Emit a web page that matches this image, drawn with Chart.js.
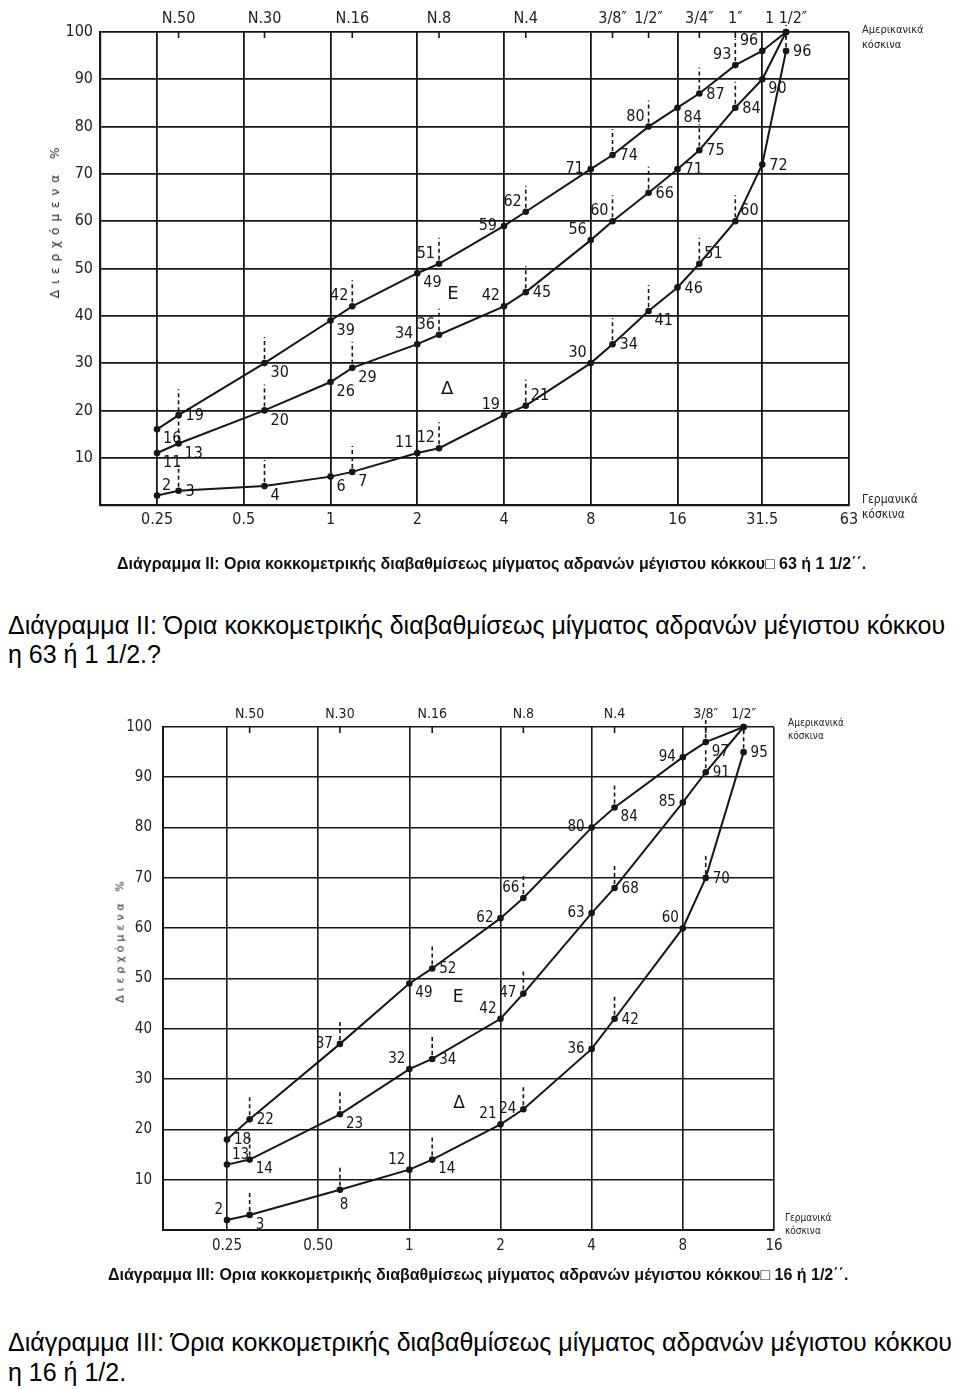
<!DOCTYPE html>
<html><head><meta charset="utf-8">
<script src="https://cdn.jsdelivr.net/npm/chart.js@4.4.0/dist/chart.umd.min.js"></script>
<style>
body{margin:0;background:#fff;width:960px;height:1389px;position:relative;overflow:hidden;font-family:"Liberation Sans",Arial,sans-serif;color:#000;}
.abs{position:absolute;}
canvas{position:absolute;}
.cap{font-weight:bold;font-size:16px;white-space:nowrap;color:#111;}
.side{font-family:"DejaVu Sans Condensed","DejaVu Sans",sans-serif;font-size:11px;line-height:15px;color:#222;white-space:nowrap;}
.ytitle{white-space:nowrap;font-family:"DejaVu Sans",sans-serif;color:#222;}
.html{font-size:25px;left:8px;line-height:29px;white-space:nowrap;}
</style></head>
<body>
<canvas id="c2" width="960" height="580" style="left:0;top:0"></canvas>
<canvas id="c3" width="960" height="610" style="left:0;top:690px"></canvas>

<div class="abs side" style="left:862px;top:22px">Αμερικανικά<br>κόσκινα</div>
<div class="abs side" style="left:862px;top:492px;font-size:12px">Γερμανικά<br>κόσκινα</div>
<div class="abs ytitle" style="left:55px;top:220px;font-size:12px;letter-spacing:6px;transform:translate(-50%,-50%) rotate(-90deg)">Διερχόμενα %</div>
<div class="abs cap" style="left:117px;top:555px">Διάγραμμα ΙΙ: Ορια κοκκομετρικής διαβαθμίσεως μίγματος αδρανών μέγιστου κόκκου□ 63 ή 1 1/2΄΄.</div>
<div class="abs html" style="top:611px">Διάγραμμα ΙΙ: Όρια κοκκομετρικής διαβαθμίσεως μίγματος αδρανών μέγιστου κόκκου<br>η 63 ή 1 1/2.?</div>

<div class="abs side" style="left:788px;top:716px;font-size:10px;line-height:13px">Αμερικανικά<br>κόσκινα</div>
<div class="abs side" style="left:785px;top:1211px;font-size:10px;line-height:13px">Γερμανικά<br>κόσκινα</div>
<div class="abs ytitle" style="left:120px;top:940px;font-size:11px;letter-spacing:4px;transform:translate(-50%,-50%) rotate(-90deg)">Διερχόμενα %</div>
<div class="abs cap" style="left:108px;top:1266px">Διάγραμμα III: Ορια κοκκομετρικής διαβαθμίσεως μίγματος αδρανών μέγιστου κόκκου□ 16 ή 1/2΄΄.</div>
<div class="abs html" style="top:1327px;line-height:30px">Διάγραμμα ΙΙΙ: Όρια κοκκομετρικής διαβαθμίσεως μίγματος αδρανών μέγιστου κόκκου<br>η 16 ή 1/2.</div>

<script>
// ---------- DATA: Diagram II ----------
const germanII = [0.25, 0.5, 1, 2, 4, 8, 16, 31.5, 63];
const germanLabelsII = ['0.25', '0.5', '1', '2', '4', '8', '16', '31.5', '63'];
const americanII = [0.297, 0.59, 1.19, 2.38, 4.76, 9.52, 12.7, 19.05, 25.4, 38.1];
const americanLabelsII = ['N.50', 'N.30', 'N.16', 'N.8', 'N.4', '3/8″', '1/2″', '3/4″', '1″', '1 1/2″'];
const sievesII = [0.25, 0.297, 0.59, 1, 1.19, 2, 2.38, 4, 4.76, 8, 9.52, 12.7, 16, 19.05, 25.4, 31.5, 38.1];
const upperII  = [16, 19, 30, 39, 42, 49, 51, 59, 62, 71, 74, 80, 84, 87, 93, 96, 100];
const middleII = [11, 13, 20, 26, 29, 34, 36, 42, 45, 56, 60, 66, 71, 75, 84, 90, 100];
const lowerII  = [2, 3, 4, 6, 7, 11, 12, 19, 21, 30, 34, 41, 46, 51, 60, 72, 96];

// ---------- DATA: Diagram III ----------
const germanIII = [0.25, 0.5, 1, 2, 4, 8, 16];
const germanLabelsIII = ['0.25', '0.50', '1', '2', '4', '8', '16'];
const americanIII = [0.297, 0.59, 1.19, 2.38, 4.76, 9.52, 12.7];
const americanLabelsIII = ['N.50', 'N.30', 'N.16', 'N.8', 'N.4', '3/8″', '1/2″'];
const sievesIII = [0.25, 0.297, 0.59, 1, 1.19, 2, 2.38, 4, 4.76, 8, 9.52, 12.7];
const upperIII  = [18, 22, 37, 49, 52, 62, 66, 80, 84, 94, 97, 100];
const middleIII = [13, 14, 23, 32, 34, 42, 47, 63, 68, 85, 91, 100];
const lowerIII  = [2, 3, 8, 12, 14, 21, 24, 36, 42, 60, 70, 95];

// ---------- label placement (style) ----------
const placeUpperII  = ['rb','r','rb','rb','la','rb','la','l','la','l','r','la','rb','r','la','la',null];
const placeMiddleII = ['rb','rb','rb','rb','rb','la','la','la','r','la','la','r','r','r','r','rb',null];
const placeLowerII  = ['ra','r','rb','rb','rb','la','la','la','ra','la','r','rb','r','ra','ra','r','r'];
const placeUpperIII  = ['r','r','l','rb','r','l','la','l','rb','l','rb',null];
const placeMiddleIII = ['ra','rb','rb','la','r','la','l','l','r','l','r',null];
const placeLowerIII  = ['la','rb','b','la','rb','la','l','l','r','la','r','r'];

const INK = '#161616';
const OFF = {r:[7,1,'left'], rb:[6,10,'left'], ra:[5,-10,'left'], l:[-7,0,'right'], la:[-4,-10,'right'], lb:[-5,10,'right'], a:[0,-13,'center'], b:[4,15,'center']};

const annot = {
  id: 'annot',
  afterDatasetsDraw(chart, args, o) {
    const ctx = chart.ctx, xs = chart.scales.x, ys = chart.scales.y;
    ctx.save();
    // inward tick marks for American sieves
    ctx.strokeStyle = INK; ctx.lineWidth = 1.6; ctx.setLineDash([]);
    o.american.forEach(v => {
      const px = xs.getPixelForValue(v);
      ctx.beginPath(); ctx.moveTo(px, ys.top); ctx.lineTo(px, ys.top + 6); ctx.stroke();
    });
    chart.data.datasets.forEach((ds, di) => {
      const meta = chart.getDatasetMeta(di);
      ds.data.forEach((p, i) => {
        const el = meta.data[i];
        if (o.american.includes(p.x) && p.y < 100) {
          ctx.setLineDash([4, 3]); ctx.lineWidth = 1.6; ctx.strokeStyle = INK;
          ctx.beginPath(); ctx.moveTo(el.x, el.y - 4); ctx.lineTo(el.x, el.y - o.dash); ctx.stroke();
        }
        const code = ds.place[i];
        if (code) {
          const [dx, dy, al] = OFF[code];
          ctx.setLineDash([]);
          ctx.fillStyle = INK; ctx.font = o.font; ctx.textAlign = al; ctx.textBaseline = 'middle';
          ctx.fillText(String(p.y), el.x + dx, el.y + dy);
        }
      });
    });
    // region letters
    ctx.font = o.letterFont; ctx.textAlign = 'center'; ctx.textBaseline = 'middle'; ctx.fillStyle = INK;
    o.letters.forEach(L => ctx.fillText(L.t, xs.getPixelForValue(L.x), ys.getPixelForValue(L.y)));
    ctx.restore();
  }
};

function makeChart(id, c) {
  const mk = (vals, place) => ({
    data: c.sieves.map((x, i) => ({x, y: vals[i]})), place,
    showLine: true, borderColor: INK, borderWidth: 2, pointRadius: 3.3, pointHoverRadius: 3.3,
    pointBackgroundColor: INK, pointBorderWidth: 0, tension: 0, fill: false, clip: false
  });
  const tickFont = {family: '"DejaVu Sans Condensed","DejaVu Sans",sans-serif', size: c.tickSize};
  new Chart(document.getElementById(id), {
    type: 'scatter',
    data: {datasets: [mk(c.upper, c.pu), mk(c.middle, c.pm), mk(c.lower, c.pl)]},
    options: {
      responsive: false, animation: false, devicePixelRatio: 1,
      layout: {padding: c.padding},
      plugins: {legend: {display: false}, tooltip: {enabled: false},
        annot: {american: c.american, dash: c.dash, font: c.labelFont, letterFont: c.letterFont, letters: c.letters}},
      scales: {
        x: {type: 'logarithmic', position: 'bottom', min: c.min, max: c.max,
          afterBuildTicks: a => { a.ticks = c.german.map(v => ({value: v})); },
          afterFit: s => { s.height = 30; },
          ticks: {callback: (v, i) => c.germanLabels[i], autoSkip: false, maxRotation: 0, padding: c.xpad, font: tickFont, color: '#222'},
          grid: {color: INK, lineWidth: c.gridW, drawTicks: false},
          border: {color: INK, width: c.gridW + 0.4}},
        x2: {type: 'logarithmic', position: 'top', min: c.min, max: c.max,
          afterBuildTicks: a => { a.ticks = c.american.map(v => ({value: v})); },
          afterFit: s => { s.height = 22; },
          ticks: {callback: (v, i) => c.americanLabels[i], autoSkip: false, maxRotation: 0, padding: 4, font: {...tickFont, size: c.topSize}, color: '#222'},
          grid: {display: false, drawTicks: false}, border: {display: false}},
        y: {type: 'linear', min: 0, max: 100,
          afterFit: s => { s.width = 60; },
          ticks: {stepSize: 10, callback: v => v === 0 ? '' : v, padding: c.ypad, font: tickFont, color: '#222'},
          grid: {color: INK, lineWidth: c.gridW, drawTicks: false},
          border: {color: INK, width: c.gridW + 0.4}}
      }
    },
    plugins: [annot]
  });
}

makeChart('c2', {
  german: germanII, germanLabels: germanLabelsII, american: americanII, americanLabels: americanLabelsII,
  sieves: sievesII, upper: upperII, middle: middleII, lower: lowerII,
  pu: placeUpperII, pm: placeMiddleII, pl: placeLowerII,
  min: 0.1585, max: 63,
  padding: {left: 40, right: 111, top: 10, bottom: 45},
  tickSize: 16, topSize: 16, xpad: 5, ypad: 7, gridW: 1.8, dash: 26,
  labelFont: '16px "DejaVu Sans Condensed","DejaVu Sans",sans-serif',
  letterFont: '18px "DejaVu Sans",sans-serif',
  letters: [{t: 'Ε', x: 2.66, y: 44.6}, {t: 'Δ', x: 2.54, y: 24.5}]
});

makeChart('c3', {
  german: germanIII, germanLabels: germanLabelsIII, american: americanIII, americanLabels: americanLabelsIII,
  sieves: sievesIII, upper: upperIII, middle: middleIII, lower: lowerIII,
  pu: placeUpperIII, pm: placeMiddleIII, pl: placeLowerIII,
  min: 0.1537, max: 16,
  padding: {left: 103, right: 186, top: 15, bottom: 40},
  tickSize: 15, topSize: 14, xpad: 7, ypad: 11, gridW: 1.6, dash: 22,
  labelFont: '15px "DejaVu Sans Condensed","DejaVu Sans",sans-serif',
  letterFont: '17px "DejaVu Sans",sans-serif',
  letters: [{t: 'Ε', x: 1.45, y: 46.3}, {t: 'Δ', x: 1.46, y: 25.2}]
});
</script>
</body></html>
